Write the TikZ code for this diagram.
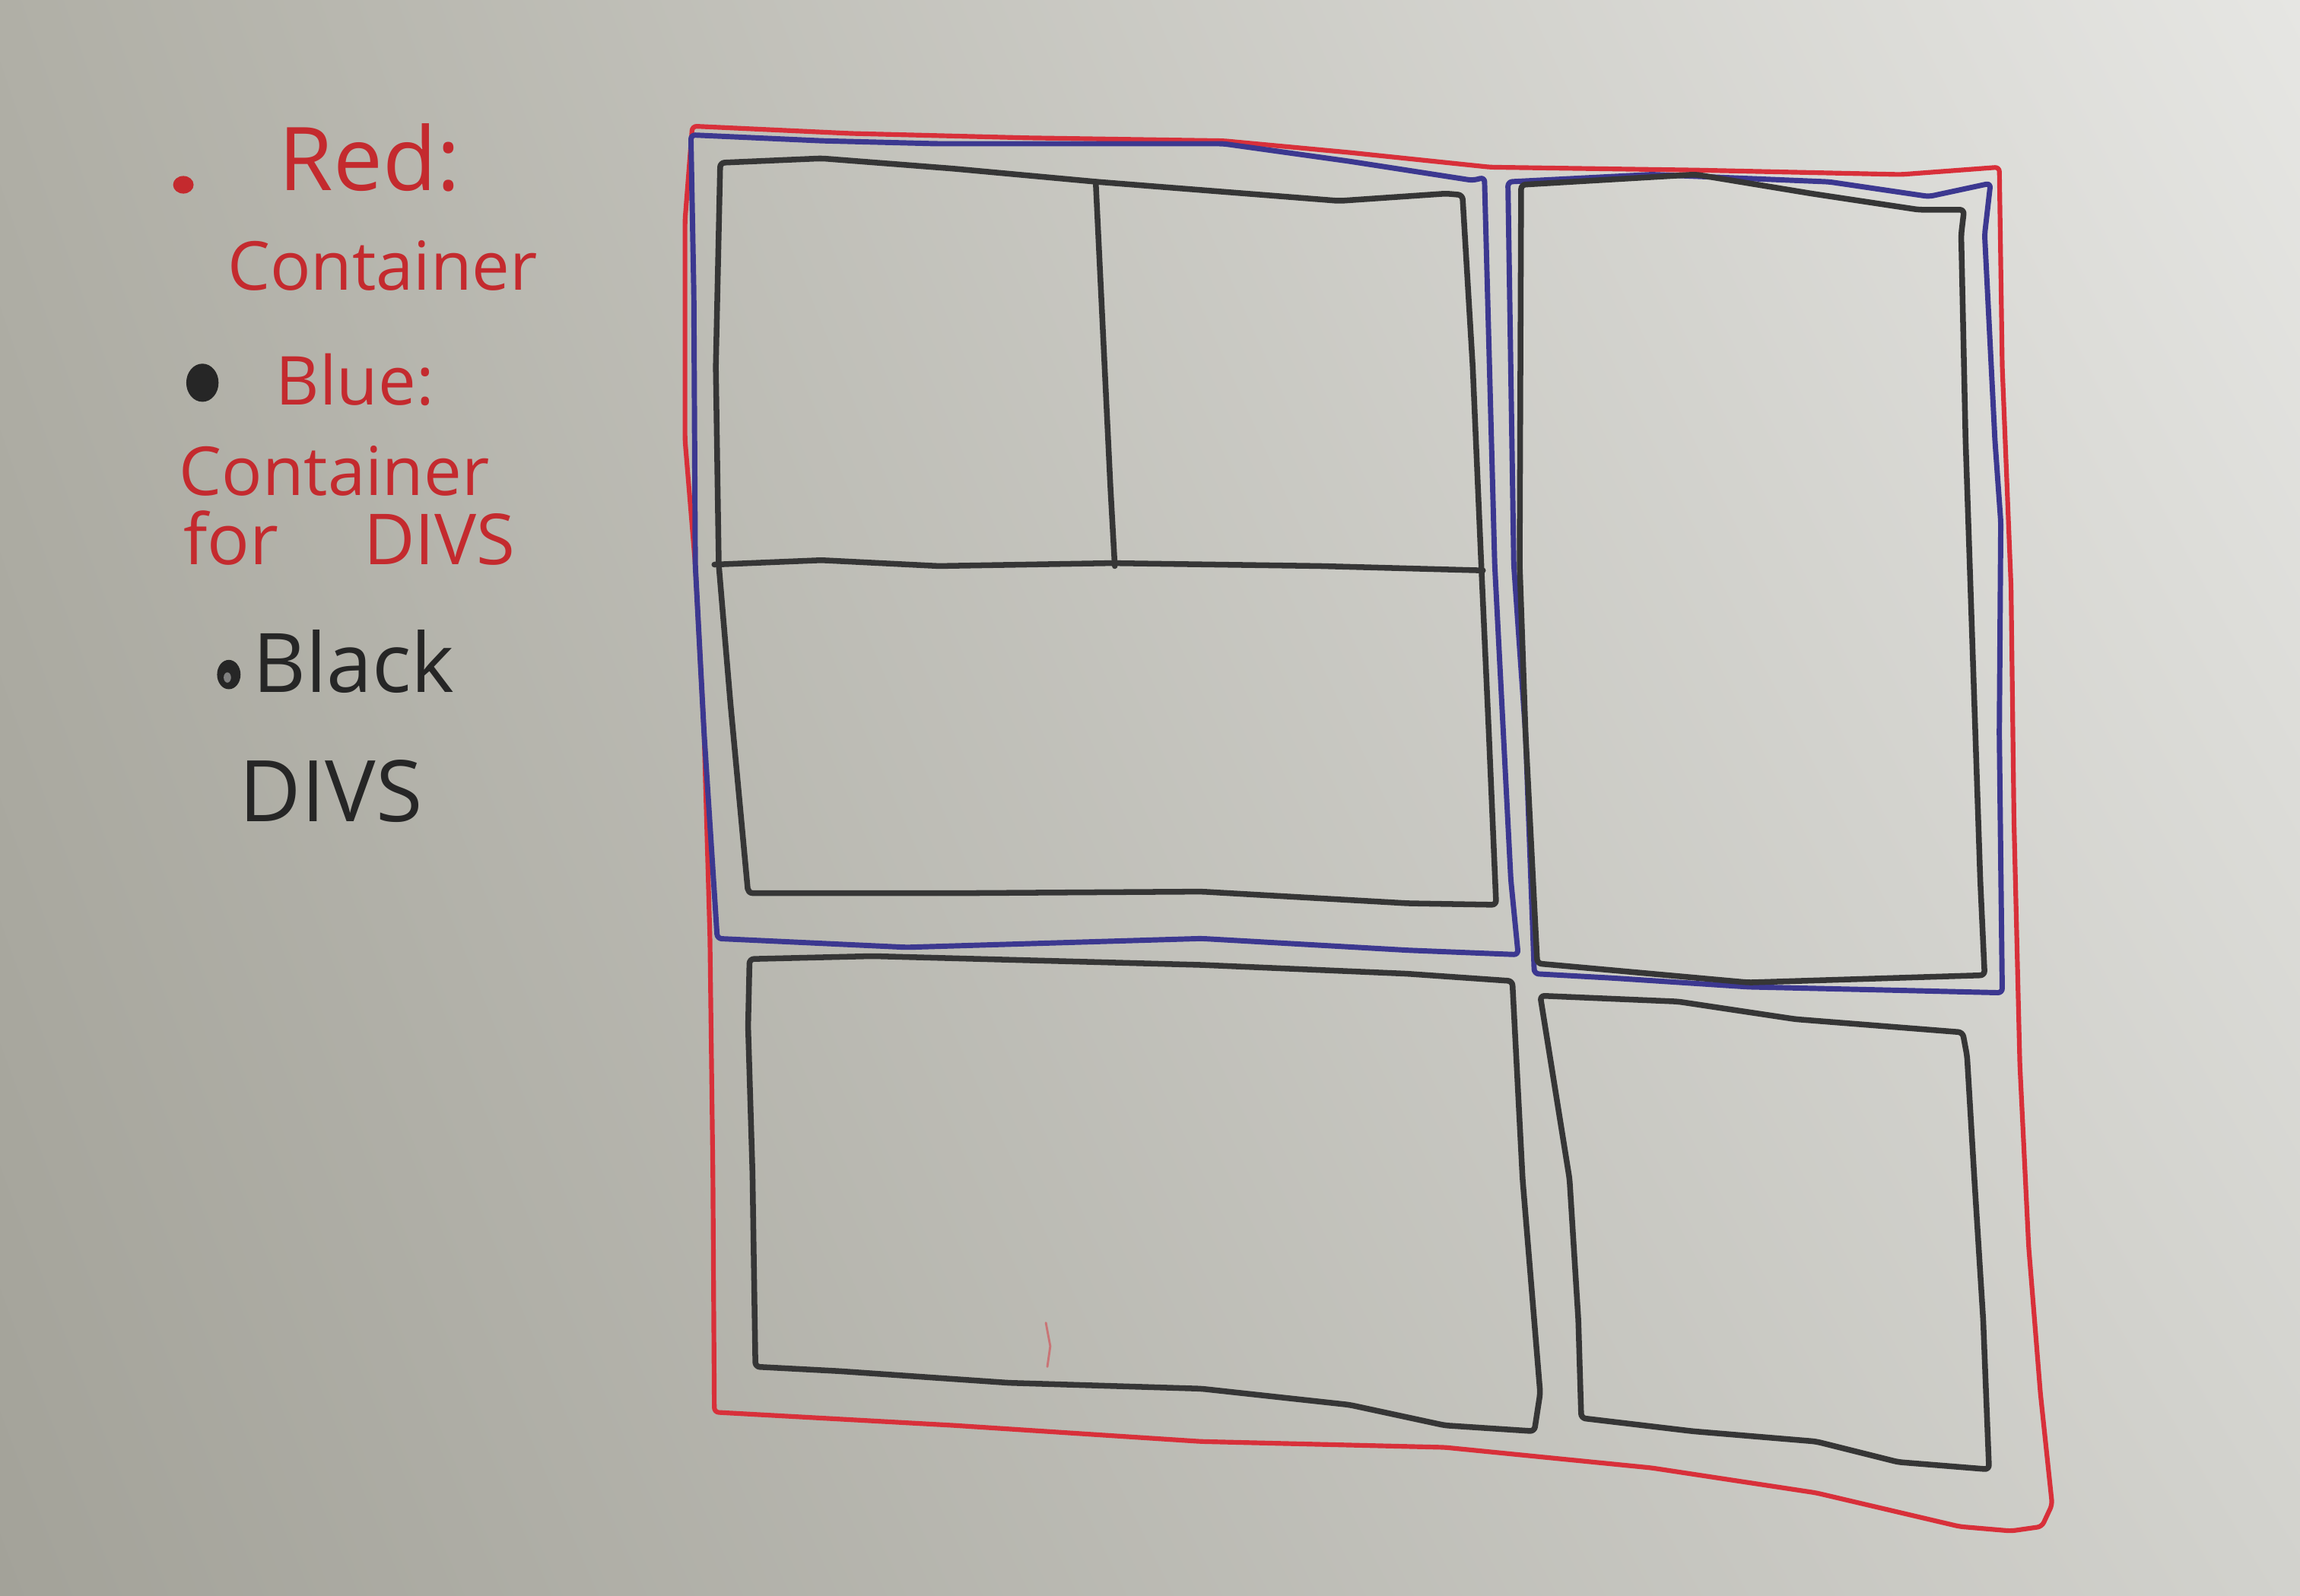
\documentclass[tikz,border=0pt]{standalone}
\usepackage{fontspec}
\setmainfont{Open Sans}
\usetikzlibrary{shadings}
\definecolor{bgUL}{HTML}{B0AFA6}
\definecolor{bgUR}{HTML}{E6E6E3}
\definecolor{bgLL}{HTML}{A3A299}
\definecolor{bgLR}{HTML}{D2D2CD}
\definecolor{inkred}{HTML}{D8303A}
\definecolor{legred}{HTML}{C42A2E}
\definecolor{inkblue}{HTML}{3C3890}
\definecolor{inkblack}{HTML}{363636}
\definecolor{legblack}{HTML}{262626}
\tikzset{
  penline/.style={line width=#1, line join=round, line cap=round, rounded corners=3pt},
  redpen/.style={penline=3.2pt, draw=inkred},
  bluepen/.style={penline=3.6pt, draw=inkblue},
  blackpen/.style={penline=3.9pt, draw=inkblack},
  hand/.style={inner sep=0pt, anchor=base west},
}
\begin{document}
\begin{tikzpicture}[x=1pt,y=-1pt]
\useasboundingbox (0,0) rectangle (1568,1088);
\shade[upper left=bgUL, upper right=bgUR, lower left=bgLL, lower right=bgLR] (0,0) rectangle (1568,1088);

% legend
\fill[legred] (125,126) ellipse [x radius=7, y radius=6];
\node[hand, text=legred, font=\fontsize{60}{60}\selectfont] (tred) at (190,130) {Red:};
\node[hand, text=legred, font=\fontsize{46}{46}\selectfont] (tcont1) at (155,198) {Container};
\fill[legblack] (138,261) ellipse [x radius=11, y radius=13];
\node[hand, text=legred, font=\fontsize{46}{46}\selectfont] (tblue) at (188,276) {Blue:};
\node[hand, text=legred, font=\fontsize{46}{46}\selectfont] (tcont2) at (122,338) {Container};
\node[hand, text=legred, font=\fontsize{48}{48}\selectfont] (tfor) at (125,385) {for\hspace{58pt}DIVS};
\fill[legblack] (156,460) ellipse [x radius=8, y radius=10];
\fill[gray] (155,462) ellipse [x radius=2.5, y radius=3.5];
\node[hand, text=legblack, font=\fontsize{56}{56}\selectfont] (tblack) at (172,472) {Black};
\node[hand, text=legblack, font=\fontsize{58}{58}\selectfont] (tdivs) at (163,560) {DIVS};

% red outer container
\draw[redpen] (472,86) -- (580,91) -- (700,94) -- (834,96) -- (920,104) -- (1016,114) -- (1156,116) -- (1296,119) -- (1363,114)
  -- (1365,250) -- (1371,400) -- (1373,560) -- (1377,726) -- (1383,850) -- (1391,950) -- (1399,1026) -- (1392,1041) -- (1371,1044)
  -- (1336,1041) -- (1238,1018) -- (1126,1001) -- (985,987) -- (819,983) -- (650,972) -- (487,963)
  -- (486,800) -- (484,640) -- (480,500) -- (474,385) -- (467,300) -- (467,150) -- cycle;

% blue containers
\draw[bluepen] (471,92) -- (560,96) -- (639,98) -- (834,98) -- (920,110) -- (1004,123) -- (1012,121)
  -- (1019,385) -- (1030,600) -- (1035,651)
  -- (960,648) -- (819,640) -- (618,646) -- (489,640)
  -- (480,500) -- (474,385) -- (473,200) -- cycle;
\draw[bluepen] (1028,124) -- (1126,119) -- (1247,124) -- (1315,134) -- (1357,125)
  -- (1353,160) -- (1360,300) -- (1364,356) -- (1363,500) -- (1365,677)
  -- (1280,675) -- (1192,673) -- (1100,667) -- (1046,664)
  -- (1040,500) -- (1032,385) -- cycle;

% black divs
\draw[blackpen] (491,111) -- (560,108) -- (650,115) -- (748,124) -- (913,137) -- (986,132) -- (997,133)
  -- (1004,250) -- (1010,389) -- (1015,500) -- (1020,617)
  -- (960,616) -- (819,608) -- (665,609) -- (510,609)
  -- (498,480) -- (490,385) -- (488,250) -- cycle;
\draw[blackpen] (747,124) -- (757,332) -- (760,386);
\draw[blackpen] (487,385) -- (560,382) -- (640,386) -- (758,384) -- (900,386) -- (1011,389);
\draw[blackpen] (1037,126) -- (1156,119) -- (1235,132) -- (1308,143) -- (1339,143)
  -- (1337,160) -- (1340,300) -- (1345,450) -- (1350,600) -- (1353,665)
  -- (1192,670) -- (1048,657)
  -- (1040,500) -- (1036,385) -- cycle;
\draw[blackpen] (511,654) -- (595,652) -- (819,658) -- (959,664) -- (1031,669)
  -- (1038,804) -- (1050,950) -- (1046,976)
  -- (985,972) -- (920,958) -- (819,947) -- (688,943) -- (572,935) -- (515,932)
  -- (513,800) -- (510,700) -- cycle;
\draw[blackpen] (1050,679) -- (1144,683) -- (1224,695) -- (1338,704)
  -- (1341,720) -- (1346,804) -- (1352,900) -- (1356,1002)
  -- (1294,997) -- (1238,983) -- (1154,976) -- (1078,967)
  -- (1076,900) -- (1070,804) -- cycle;

% faint red stray mark
\draw[inkred, opacity=0.5, line width=1.5pt, line cap=round] (713,902) -- (716,918) -- (714,932);
\end{tikzpicture}
\end{document}
